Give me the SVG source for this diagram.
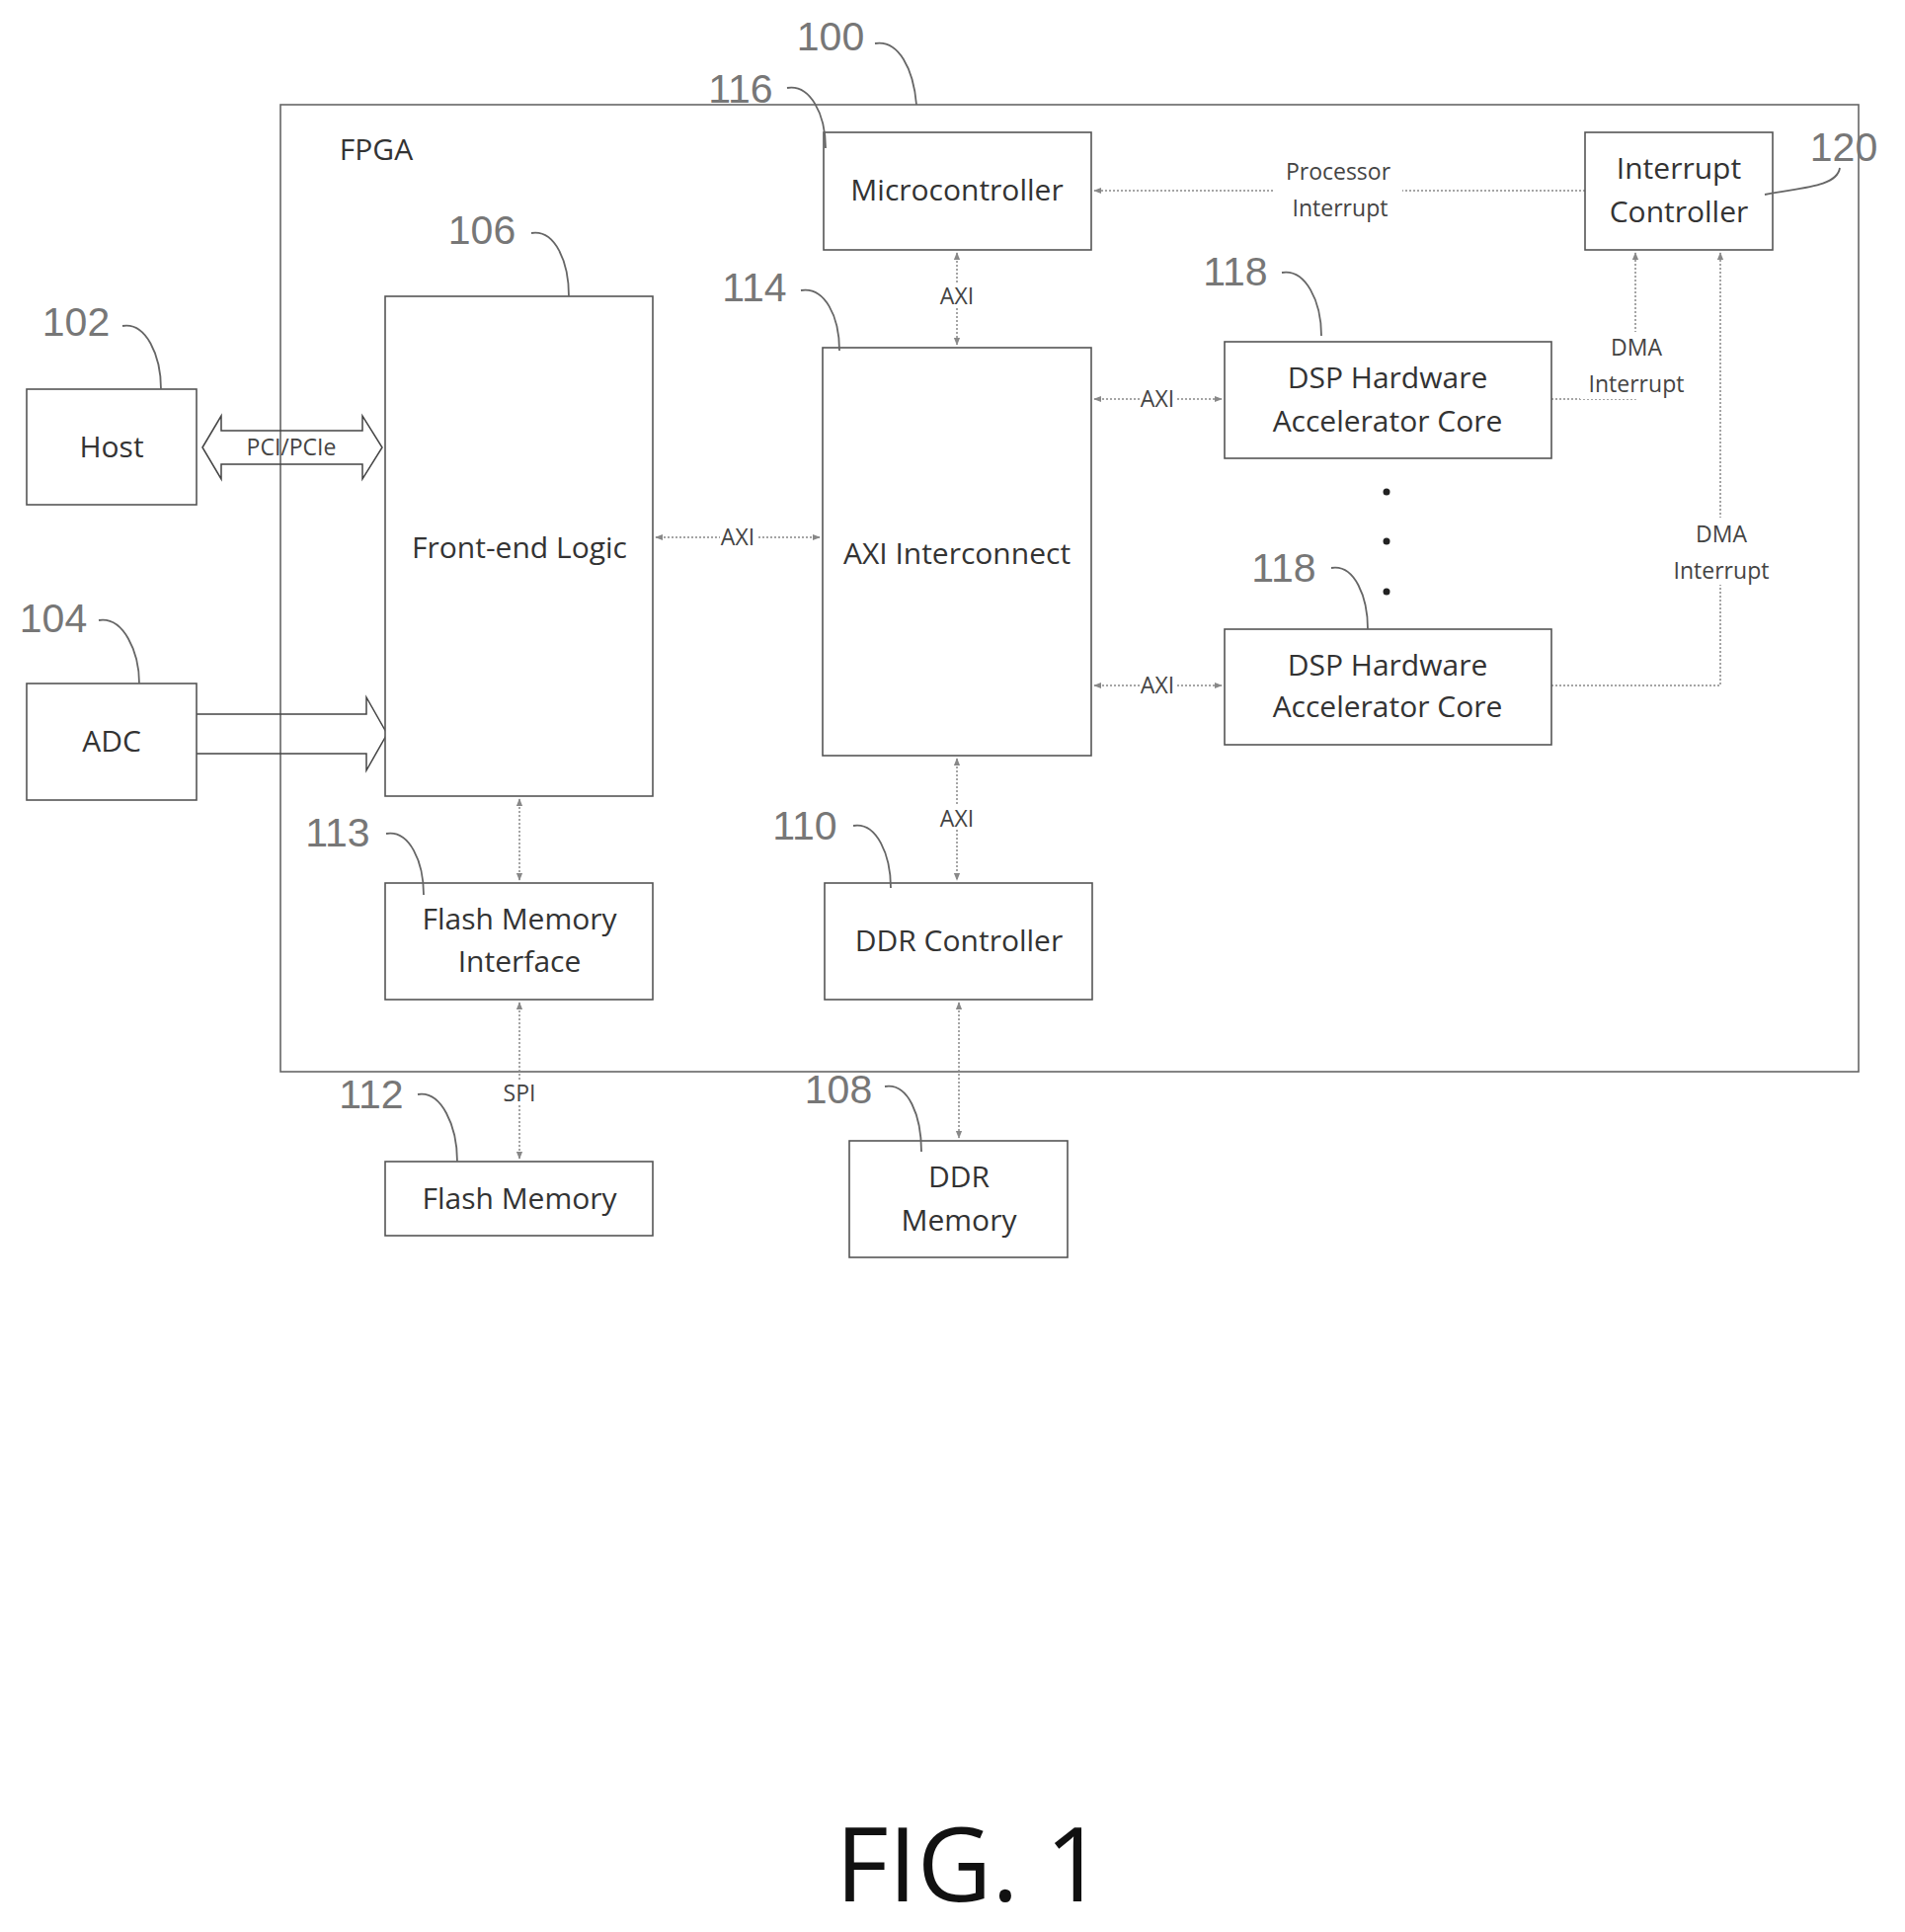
<svg xmlns="http://www.w3.org/2000/svg" width="1929" height="1956" viewBox="0 0 1929 1956">
<style>
.b{fill:#fff;stroke:#555;stroke-width:1.6}
.t{font-family:"Open Sans","Liberation Sans",sans-serif;font-size:30px;fill:#333;text-anchor:middle}
.s{font-family:"Open Sans","Liberation Sans",sans-serif;font-size:23px;fill:#444;text-anchor:middle}
.n{font-family:"Liberation Sans",sans-serif;font-size:41px;fill:#777;text-anchor:middle}
.c{fill:none;stroke:#888;stroke-width:1.5;stroke-dasharray:2 2}
.l{fill:none;stroke:#666;stroke-width:1.8}
.w{fill:none;stroke:#444;stroke-width:1.5}
</style>
<defs>
<marker id="a" viewBox="0 0 10 10" refX="9" refY="5" markerWidth="8" markerHeight="8" orient="auto-start-reverse" markerUnits="userSpaceOnUse"><path d="M0,1 L10,5 L0,9 Z" fill="#888"/></marker>
</defs>
<rect width="1929" height="1956" fill="#fff"/>
<g id="fpga"><rect x="284" y="106" width="1598" height="979" fill="none" stroke="#666" stroke-width="1.6"/><text x="381" y="162" class="t" font-size="32">FPGA</text></g>
<g id="connectors">
<line class="c" x1="969" y1="256" x2="969" y2="349" marker-start="url(#a)" marker-end="url(#a)"/>
<line class="c" x1="664" y1="544" x2="830" y2="544" marker-start="url(#a)" marker-end="url(#a)"/>
<line class="c" x1="1108" y1="404" x2="1237" y2="404" marker-start="url(#a)" marker-end="url(#a)"/>
<line class="c" x1="1108" y1="694" x2="1237" y2="694" marker-start="url(#a)" marker-end="url(#a)"/>
<line class="c" x1="969" y1="768" x2="969" y2="891" marker-start="url(#a)" marker-end="url(#a)"/>
<line class="c" x1="526" y1="809" x2="526" y2="891" marker-start="url(#a)" marker-end="url(#a)"/>
<line class="c" x1="526" y1="1015" x2="526" y2="1173" marker-start="url(#a)" marker-end="url(#a)"/>
<line class="c" x1="971" y1="1015" x2="971" y2="1152" marker-start="url(#a)" marker-end="url(#a)"/>
<line class="c" x1="1605" y1="193" x2="1108" y2="193" marker-end="url(#a)"/>
<polyline class="c" points="1571,404 1656,404 1656,256" marker-end="url(#a)"/>
<polyline class="c" points="1571,694 1742,694 1742,256" marker-end="url(#a)"/>
<path class="w" d="M205,453 L224,421 L224,436 L367,436 L367,421 L387,453 L367,485 L367,470 L224,470 L224,485 Z"/>
<path class="w" d="M199,723 L371,723 L371,706 L392,743 L371,780 L371,763 L199,763"/>
<g class="s">
<rect x="952" y="286" width="34" height="24" fill="#fff"/><text x="969" y="308">AXI</text>
<rect x="729" y="530" width="38" height="26" fill="#fff"/><text x="747" y="552">AXI</text>
<rect x="1154" y="390" width="38" height="26" fill="#fff"/><text x="1172" y="412">AXI</text>
<rect x="1154" y="680" width="38" height="26" fill="#fff"/><text x="1172" y="702">AXI</text>
<rect x="952" y="815" width="34" height="24" fill="#fff"/><text x="969" y="837">AXI</text>
<rect x="510" y="1093" width="32" height="24" fill="#fff"/><text x="526" y="1115">SPI</text>
<rect x="1290" y="158" width="130" height="68" fill="#fff"/><text x="1355" y="182">Processor</text><text x="1357" y="219">Interrupt</text>
<rect x="1600" y="336" width="112" height="68" fill="#fff"/><text x="1657" y="360">DMA</text><text x="1657" y="397">Interrupt</text>
<rect x="1686" y="524" width="112" height="68" fill="#fff"/><text x="1743" y="549">DMA</text><text x="1743" y="586">Interrupt</text>
<text x="295" y="461" font-size="23">PCI/PCIe</text>
</g>
<g fill="#222"><circle cx="1404" cy="498" r="3.5"/><circle cx="1404" cy="548" r="3.5"/><circle cx="1404" cy="599" r="3.5"/></g>
</g>
<g id="n100"><text class="n" x="841" y="51">100</text><path class="l" d="M886,44 C910,40 925,70 928,106"/></g>
<g id="n116"><rect class="b" x="834" y="134" width="271" height="119"/><text class="t" x="969" y="203">Microcontroller</text><text class="n" x="750" y="104">116</text><path class="l" d="M797,89 C820,85 836,115 836,150"/></g>
<g id="n120"><rect class="b" x="1605" y="134" width="190" height="119"/><text class="t" x="1700" y="181">Interrupt</text><text class="t" x="1700" y="225">Controller</text><text class="n" x="1867" y="163">120</text><path class="l" d="M1863,170 C1860,190 1820,190 1787,197"/></g>
<g id="n106"><rect class="b" x="390" y="300" width="271" height="506"/><text class="t" x="526" y="565">Front-end Logic</text><text class="n" x="488" y="247">106</text><path class="l" d="M538,236 C562,232 576,265 576,300"/></g>
<g id="n114"><rect class="b" x="833" y="352" width="272" height="413"/><text class="t" x="969" y="571">AXI Interconnect</text><text class="n" x="764" y="305">114</text><path class="l" d="M811,294 C835,290 850,320 850,355"/></g>
<g id="n118a"><rect class="b" x="1240" y="346" width="331" height="118"/><text class="t" x="1405" y="393">DSP Hardware</text><text class="t" x="1405" y="437">Accelerator Core</text><text class="n" x="1251" y="289">118</text><path class="l" d="M1298,276 C1322,272 1338,305 1338,340"/></g>
<g id="n118b"><rect class="b" x="1240" y="637" width="331" height="117"/><text class="t" x="1405" y="684">DSP Hardware</text><text class="t" x="1405" y="726">Accelerator Core</text><text class="n" x="1300" y="589">118</text><path class="l" d="M1348,575 C1372,571 1385,605 1385,637"/></g>
<g id="n102"><rect class="b" x="27" y="394" width="172" height="117"/><text class="t" x="113" y="463">Host</text><text class="n" x="77" y="340">102</text><path class="l" d="M124,330 C148,326 163,360 163,394"/></g>
<g id="n104"><rect class="b" x="27" y="692" width="172" height="118"/><text class="t" x="113" y="761">ADC</text><text class="n" x="54" y="640">104</text><path class="l" d="M100,628 C125,624 141,660 141,692"/></g>
<g id="n113"><rect class="b" x="390" y="894" width="271" height="118"/><text class="t" x="526" y="941">Flash Memory</text><text class="t" x="526" y="984">Interface</text><text class="n" x="342" y="857">113</text><path class="l" d="M391,844 C415,840 429,873 429,906"/></g>
<g id="n110"><rect class="b" x="835" y="894" width="271" height="118"/><text class="t" x="971" y="963">DDR Controller</text><text class="n" x="815" y="850">110</text><path class="l" d="M864,836 C888,832 902,866 902,899"/></g>
<g id="n112"><rect class="b" x="390" y="1176" width="271" height="75"/><text class="t" x="526" y="1224">Flash Memory</text><text class="n" x="376" y="1122">112</text><path class="l" d="M423,1108 C447,1104 463,1140 463,1176"/></g>
<g id="n108"><rect class="b" x="860" y="1155" width="221" height="118"/><text class="t" x="971" y="1202">DDR</text><text class="t" x="971" y="1246">Memory</text><text class="n" x="849" y="1117">108</text><path class="l" d="M896,1100 C920,1096 933,1130 933,1166"/></g>
<text x="982" y="1925" font-family="Open Sans, Liberation Sans, sans-serif" font-size="104" fill="#111" text-anchor="middle">FIG. 1</text>
</svg>
